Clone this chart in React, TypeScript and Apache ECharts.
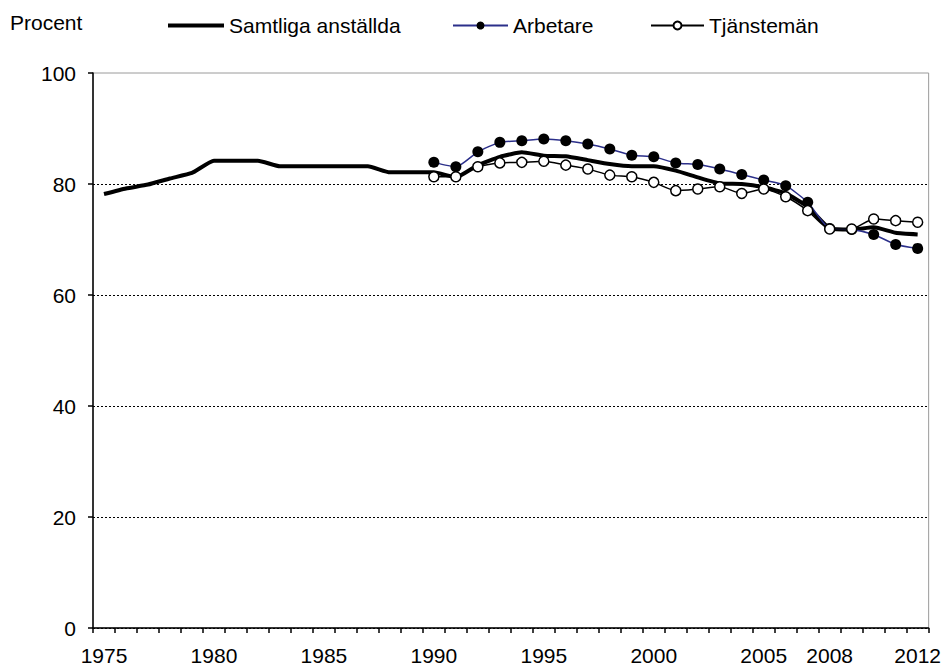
import React, { useEffect, useRef } from "react";
import * as echarts from "echarts";

const years: string[] = [];
for (let y = 1975; y <= 2012; y++) years.push(String(y));

const labeledYears = ["1975", "1980", "1985", "1990", "1995", "2000", "2005", "2008", "2012"];

const samtliga: number[] = [
  78.2, 79.2, 79.9, 81.0, 82.0, 84.2, 84.2, 84.2, 83.2, 83.2,
  83.2, 83.2, 83.2, 82.1, 82.1, 82.1, 81.2, 83.4, 84.9, 85.7,
  85.1, 85.0, 84.3, 83.6, 83.2, 83.2, 82.4, 81.2, 80.1, 80.0,
  79.4, 78.3, 75.9, 72.0, 71.8, 72.2, 71.2, 70.9,
];

const arbetare: (number | null)[] = [
  null, null, null, null, null, null, null, null, null, null,
  null, null, null, null, null, 83.9, 83.1, 85.8, 87.5, 87.8,
  88.1, 87.8, 87.2, 86.3, 85.2, 84.9, 83.8, 83.5, 82.7, 81.7,
  80.7, 79.7, 76.7, 72.0, 71.8, 70.9, 69.1, 68.4,
];

const tjansteman: (number | null)[] = [
  null, null, null, null, null, null, null, null, null, null,
  null, null, null, null, null, 81.3, 81.3, 83.1, 83.8, 83.9,
  84.1, 83.4, 82.7, 81.6, 81.3, 80.3, 78.8, 79.1, 79.5, 78.3,
  79.1, 77.7, 75.2, 71.9, 71.9, 73.7, 73.4, 73.1,
];

const FONT = "'Liberation Sans', Arial, sans-serif";
const FS = 21;

export default function App() {
  const ref = useRef<HTMLDivElement>(null);
  useEffect(() => {
    if (!ref.current) return;
    const chart = echarts.init(ref.current, null, { renderer: "svg" });
    const legendText = { fontFamily: FONT, fontSize: FS, color: "#000" };
    chart.setOption({
      animation: false,
      backgroundColor: "#fff",
      textStyle: { fontFamily: FONT },
      graphic: [
        {
          type: "text",
          left: 10,
          top: 12,
          style: { text: "Procent", font: `${FS}px ${FONT}`, fill: "#000" },
        },
      ],
      legend: [
        {
          data: [{ name: "Samtliga anställda", icon: "rect" }],
          left: 168,
          top: 15,
          padding: 0,
          itemWidth: 56,
          itemHeight: 4,
          textStyle: legendText,
        },
        {
          data: ["Arbetare"],
          left: 452,
          top: 15,
          padding: 0,
          itemWidth: 55,
          itemHeight: 10,
          textStyle: legendText,
        },
        {
          data: ["Tjänstemän"],
          left: 650,
          top: 15,
          padding: 0,
          itemWidth: 53,
          itemHeight: 10,
          textStyle: legendText,
        },
      ],
      grid: {
        left: 93,
        right: 14,
        top: 73,
        bottom: 40,
        show: true,
        borderColor: "#9a9a9a",
        borderWidth: 1,
      },
      xAxis: {
        type: "category",
        data: years,
        boundaryGap: true,
        axisLine: { lineStyle: { color: "#000", width: 1.5 } },
        axisTick: { show: true, interval: 0, length: 5, lineStyle: { color: "#000", width: 1.5 } },
        axisLabel: {
          interval: (_i: number, v: string) => labeledYears.includes(v),
          margin: 17,
          fontSize: FS,
          color: "#000",
          fontFamily: FONT,
        },
        splitLine: { show: false },
      },
      yAxis: {
        type: "value",
        min: 0,
        max: 100,
        interval: 20,
        axisLine: { show: true, lineStyle: { color: "#000", width: 1.5 } },
        axisTick: { show: true, length: 5, lineStyle: { color: "#000", width: 1.5 } },
        axisLabel: { margin: 17, fontSize: FS, color: "#000", fontFamily: FONT },
        splitLine: {
          show: true,
          lineStyle: {
            color: ["#000", "#000", "#000", "#000", "#000", "rgba(0,0,0,0)"],
            type: [2, 2],
            width: 1,
          },
        },
      },
      series: [
        {
          name: "Samtliga anställda",
          type: "line",
          data: samtliga,
          symbol: "none",
          smooth: 0.15,
          lineStyle: { color: "#000", width: 4 },
          itemStyle: { color: "#000" },
          z: 2,
        },
        {
          name: "Arbetare",
          type: "line",
          data: arbetare,
          symbol: "circle",
          symbolSize: 11,
          smooth: 0.2,
          lineStyle: { color: "#2b2f8a", width: 1.5 },
          itemStyle: { color: "#000", borderWidth: 0 },
          z: 3,
        },
        {
          name: "Tjänstemän",
          type: "line",
          data: tjansteman,
          symbol: "circle",
          symbolSize: 10,
          smooth: 0.2,
          lineStyle: { color: "#000", width: 1.5 },
          itemStyle: { color: "#fff", borderColor: "#000", borderWidth: 1.5 },
          z: 4,
        },
      ],
    });
    return () => chart.dispose();
  }, []);
  return <div ref={ref} style={{ width: 944, height: 668, position: "absolute", left: 0, top: 0 }} />;
}
